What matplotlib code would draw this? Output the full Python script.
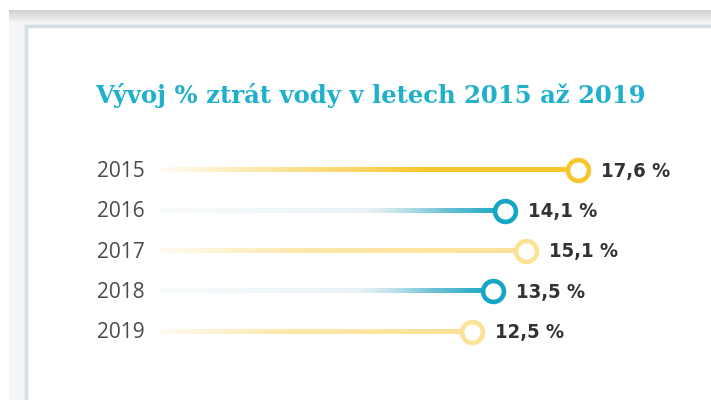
import numpy as np
import matplotlib
matplotlib.use("Agg")
from matplotlib import pyplot as plt
from matplotlib import transforms
from matplotlib.patches import Rectangle
from matplotlib.colors import to_rgba

# data
years = ["2015", "2016", "2017", "2018", "2019"]
losses = [17.6, 14.1, 15.1, 13.5, 12.5]
title = "Vývoj % ztrát vody v letech 2015 až 2019"

# styling per row
yellow = "#f8c62a"
pale_yellow = "#fce296"
teal = "#14a6c2"
ring_colors = [yellow, teal, pale_yellow, teal, pale_yellow]
# gradient stops (t, color, alpha) along each line
stops_yellow = [(0.0, yellow, 0.05), (0.3, yellow, 0.5), (0.65, yellow, 1.0), (1.0, yellow, 1.0)]
stops_pale = [(0.0, pale_yellow, 0.15), (0.4, pale_yellow, 0.8), (1.0, pale_yellow, 1.0)]
stops_teal = [(0.0, "#e4eef2", 0.25), (0.6, "#dbeaef", 0.6), (0.82, "#6fc3d6", 1.0), (1.0, teal, 1.0)]
line_stops = [stops_yellow, stops_teal, stops_pale, stops_teal, stops_pale]

X_MIN, X_MAX = -2.42, 23.42

fig = plt.figure(figsize=(7.11, 4.0), dpi=100)
fig.patch.set_facecolor("white")

# background / frame (pixel coordinates)
bg = fig.add_axes([0, 0, 1, 1])
bg.set_xlim(0, 711)
bg.set_ylim(400, 0)
bg.axis("off")
bg.add_patch(Rectangle((9, 10), 710, 400, facecolor="#f3f5f6", edgecolor="none"))
shade = np.linspace(0, 1, 64).reshape(-1, 1)
grad = np.ones((64, 1, 4))
grad[..., :3] = np.array(to_rgba("#cdcfd0")[:3]) * (1 - shade[..., None]) + np.array(to_rgba("#f6f8f9")[:3]) * shade[..., None]
bg.imshow(grad, extent=(9, 711, 24, 10), aspect="auto", interpolation="bilinear", zorder=1)
bg.add_patch(Rectangle((25.5, 25.5), 700, 400, facecolor="white", edgecolor="#d2dfe4", linewidth=2.5, zorder=2))

bg.text(370, 95, title, ha="center", va="center", fontsize=17.5, fontweight="bold",
        family="DejaVu Serif", color="#1fb0cc", zorder=3)

# chart
ax = fig.add_axes([160 / 711, 48 / 400, 540 / 711, 202 / 400])
ax.set_xlim(X_MIN, X_MAX)
ax.set_ylim(len(years) - 0.5, -0.5)
ax.axis("off")
ax.patch.set_alpha(0)


def gradient_line(ax, y, x_end, stops, half=0.05):
    n = 256
    t = np.linspace(0, 1, n)
    ts = [s[0] for s in stops]
    cols = [to_rgba(s[1]) for s in stops]
    img = np.zeros((1, n, 4))
    for k in range(3):
        img[0, :, k] = np.interp(t, ts, [c[k] for c in cols])
    img[0, :, 3] = np.interp(t, ts, [s[2] for s in stops])
    ax.imshow(img, extent=(X_MIN, x_end, y + half, y - half), aspect="auto",
              interpolation="bilinear", zorder=2)


for i, (yr, v) in enumerate(zip(years, losses)):
    gradient_line(ax, i, v, line_stops[i])
    ax.plot(v, i, marker="o", markersize=15, markerfacecolor="white",
            markeredgecolor=ring_colors[i], markeredgewidth=3.3, zorder=4)
    lbl = "{:.1f}".format(v).replace(".", ",") + " %"
    tr = transforms.offset_copy(ax.transData, fig=fig, x=23, y=-1, units="dots")
    ax.text(v, i, lbl, transform=tr, ha="left", va="center", fontsize=14.5,
            fontweight="bold", fontstretch="condensed", family="DejaVu Sans", color="#333333", zorder=5)
    ax.text(X_MIN, i, yr, transform=transforms.offset_copy(ax.transData, fig=fig, x=-15, y=-1, units="dots"),
            ha="right", va="center", fontsize=15, family=["Open Sans", "DejaVu Sans"], color="#4a4a4a")

plt.savefig("out.png", dpi=100)
